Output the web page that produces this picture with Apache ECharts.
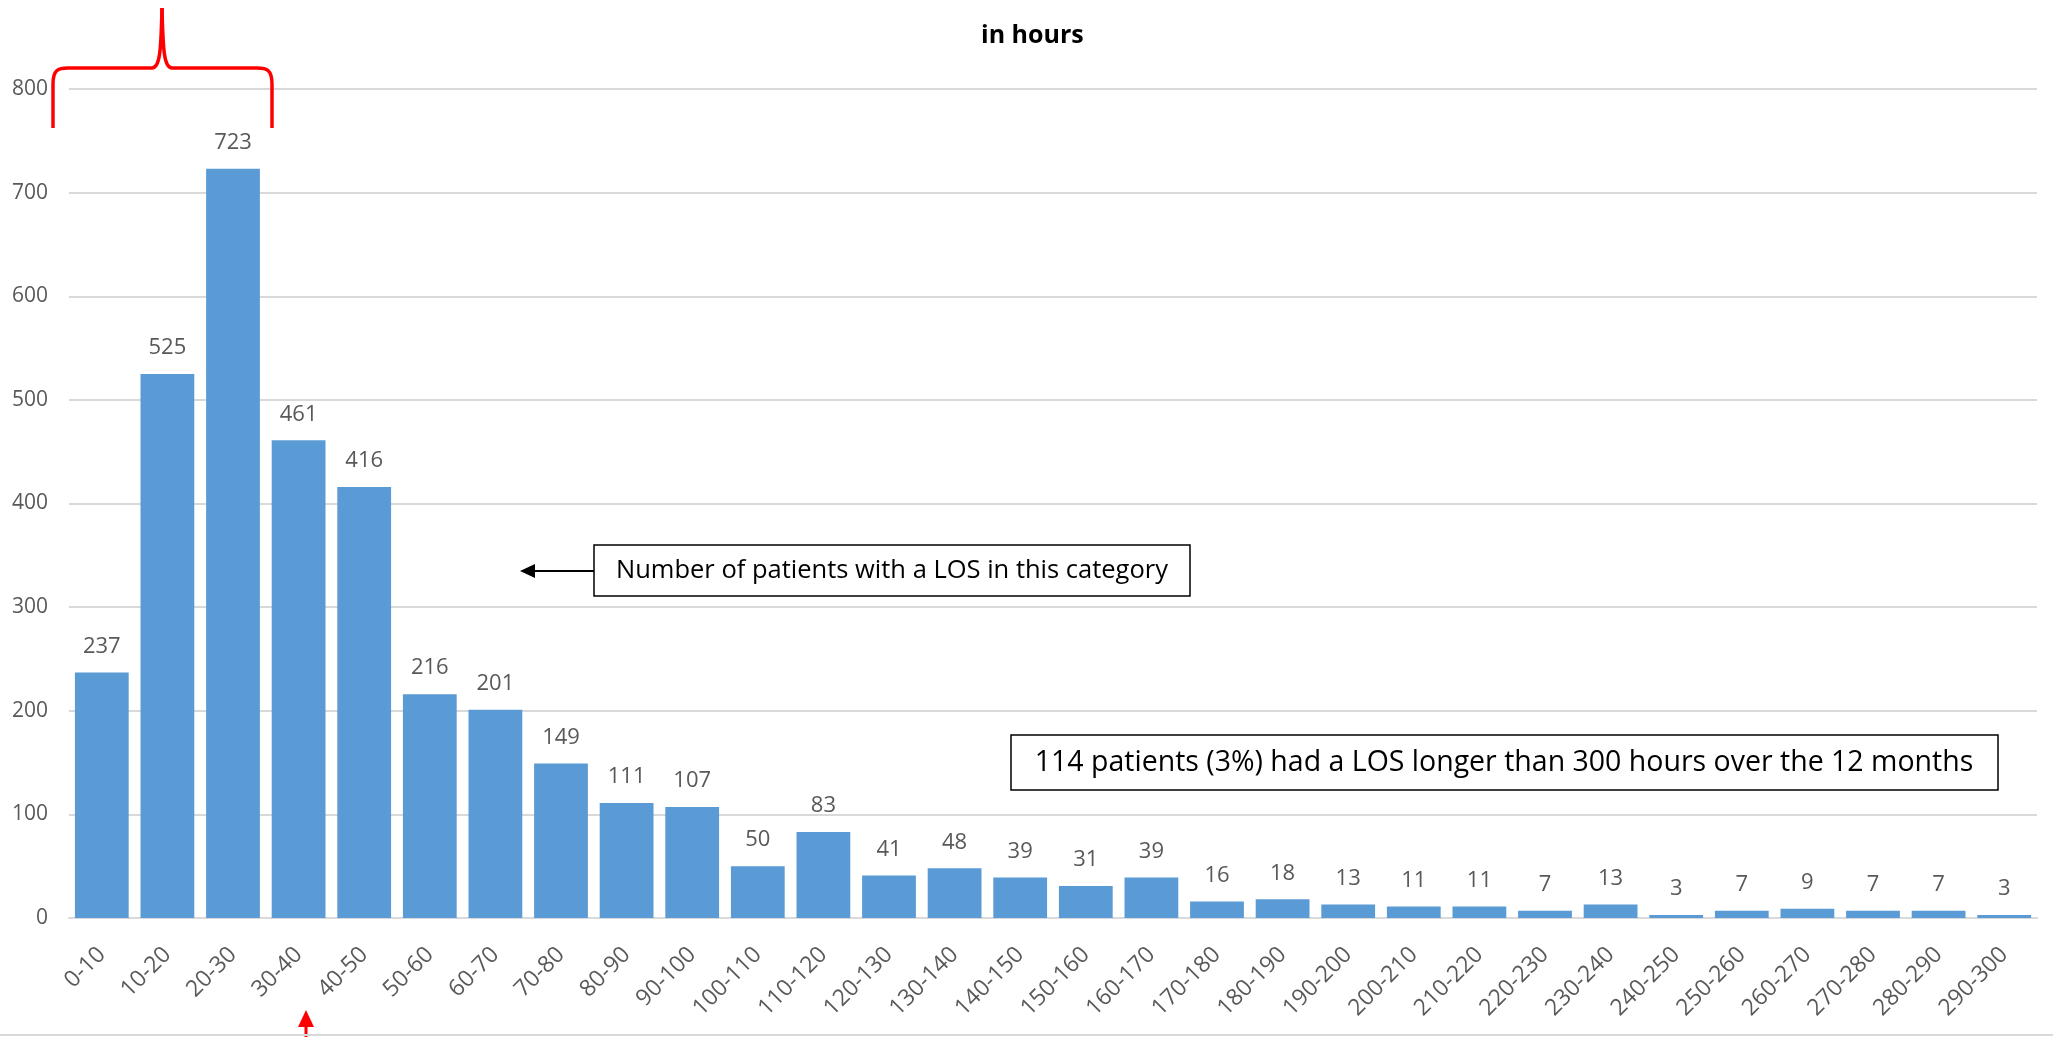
<!DOCTYPE html>
<html>
<head>
<meta charset="utf-8">
<script src="https://cdn.jsdelivr.net/npm/echarts@6/dist/echarts.min.js"></script>
<style>
html,body{margin:0;padding:0;background:#fff;}
#chart{width:2053px;height:1037px;}
</style>
</head>
<body>
<div id="chart"></div>
<script>
const categories = ['0-10','10-20','20-30','30-40','40-50','50-60','60-70','70-80','80-90','90-100',
  '100-110','110-120','120-130','130-140','140-150','150-160','160-170','170-180','180-190','190-200',
  '200-210','210-220','220-230','230-240','240-250','250-260','260-270','270-280','280-290','290-300'];
const patients = [237,525,723,461,416,216,201,149,111,107,
  50,83,41,48,39,31,39,16,18,13,
  11,11,7,13,3,7,9,7,7,3];
const yTicks = {min:0, max:800, interval:100};
const subtitle = 'in hours';
const note1 = 'Number of patients with a LOS in this category';
const note2 = '114 patients (3%) had a LOS longer than 300 hours over the 12 months';

const chart = echarts.init(document.getElementById('chart'));
const gray = '#595959';
const red = {stroke:'#ff0000', lineWidth:3.5, fill:'none'};
chart.setOption({
  animation:false,
  backgroundColor:'#fff',
  title:{
    text: subtitle, left: 976, top: 18,
    textStyle:{fontFamily:'Open Sans', fontWeight:'bold', fontSize:25, color:'#000'}
  },
  grid:{left:69, right:16, top:89, bottom:119, containLabel:false},
  xAxis:{
    type:'category', data:categories,
    axisLine:{lineStyle:{color:'#d9d9d9', width:2}},
    axisTick:{show:false},
    axisLabel:{rotate:45, color:gray, fontFamily:'Open Sans', fontSize:23, margin:33, interval:0}
  },
  yAxis:{
    type:'value', min:yTicks.min, max:yTicks.max, interval:yTicks.interval,
    axisLine:{show:false}, axisTick:{show:false},
    splitLine:{lineStyle:{color:'#d9d9d9', width:2}},
    axisLabel:{color:gray, fontFamily:'Open Sans', fontSize:21, margin:21}
  },
  series:[{
    type:'bar', data:patients, barCategoryGap:'18%',
    itemStyle:{color:'#5b9bd5'},
    label:{show:true, position:'top', distance:15, color:gray, fontFamily:'Open Sans', fontSize:22}
  }],
  graphic:[
    {type:'rect', shape:{x:594, y:545, width:596, height:51}, style:{fill:'#fff', stroke:'#000', lineWidth:1.5}, z:100},
    {type:'text', x:892, y:571, style:{text:note1, font:'25.5px "Open Sans"', fill:'#000', align:'center', verticalAlign:'middle'}, z:101},
    {type:'line', shape:{x1:594, y1:571, x2:532, y2:571}, style:{stroke:'#000', lineWidth:2}, z:100},
    {type:'polygon', shape:{points:[[520,571],[535,564],[535,578]]}, style:{fill:'#000'}, z:100},
    {type:'rect', shape:{x:1011, y:735, width:987, height:55}, style:{fill:'#fff', stroke:'#000', lineWidth:1.5}, z:100},
    {type:'text', x:1504, y:763, style:{text:note2, font:'28.5px "Open Sans"', fill:'#000', align:'center', verticalAlign:'middle'}, z:101},
    {type:'line', shape:{x1:53, y1:128, x2:53, y2:84}, style:red, z:100},
    {type:'bezierCurve', shape:{x1:53, y1:84, cpx1:53, cpy1:70, cpx2:58, cpy2:68, x2:68, y2:68}, style:red, z:100},
    {type:'line', shape:{x1:68, y1:68, x2:152, y2:68}, style:red, z:100},
    {type:'bezierCurve', shape:{x1:152, y1:68, cpx1:160, cpy1:68, cpx2:161, cpy2:50, x2:162, y2:8}, style:red, z:100},
    {type:'bezierCurve', shape:{x1:162, y1:8, cpx1:163, cpy1:50, cpx2:164, cpy2:68, x2:172, y2:68}, style:red, z:100},
    {type:'line', shape:{x1:172, y1:68, x2:257, y2:68}, style:red, z:100},
    {type:'bezierCurve', shape:{x1:257, y1:68, cpx1:267, cpy1:68, cpx2:272, cpy2:70, x2:272, y2:84}, style:red, z:100},
    {type:'line', shape:{x1:272, y1:84, x2:272, y2:128}, style:red, z:100},
    {type:'line', shape:{x1:306, y1:1037, x2:306, y2:1024}, style:{stroke:'#ff0000', lineWidth:3}, z:100},
    {type:'polygon', shape:{points:[[306,1010],[298,1027],[314,1027]]}, style:{fill:'#ff0000'}, z:100},
    {type:'line', shape:{x1:0, y1:1035, x2:2053, y2:1035}, style:{stroke:'#d9d9d9', lineWidth:2}, z:100}
  ]
});
</script>
</body>
</html>
